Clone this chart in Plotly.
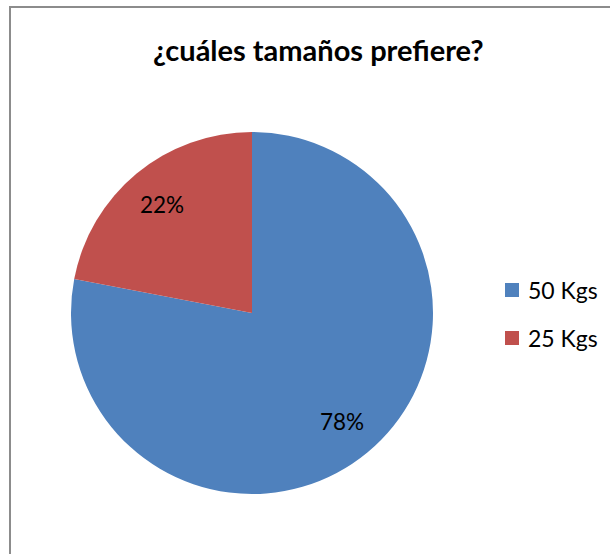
import math
import plotly.graph_objects as go

title_text = "¿cuáles tamaños prefiere?"
labels = ["50 Kgs", "25 Kgs"]
values = [78, 22]
colors = ["#4F81BD", "#C0504D"]

W, H = 610, 554
font_family = "Lato, 'Open Sans', sans-serif"

# pie placement in pixels (center and radius)
cx, cy, r = 252, 313, 181

fig = go.Figure()
fig.add_trace(go.Pie(
    labels=labels,
    values=values,
    marker=dict(colors=colors, line=dict(width=0)),
    sort=False,
    direction="clockwise",
    rotation=0,
    textinfo="none",
    hoverinfo="label+percent",
    showlegend=False,
    domain=dict(x=[(cx - r) / W, (cx + r) / W],
                y=[(H - cy - r) / H, (H - cy + r) / H]),
))

annotations = []
# percentage labels placed along each slice's mid-angle
total = sum(values)
start = 0.0
for v in values:
    frac = v / total
    mid = (start + frac / 2) * 2 * math.pi
    start += frac
    px = cx + 0.78 * r * math.sin(mid)
    py = cy - 0.78 * r * math.cos(mid)
    annotations.append(dict(
        x=px / W, y=1 - py / H, xref="paper", yref="paper",
        text=f"{round(frac * 100)}%", showarrow=False,
        font=dict(size=22.5, color="#000000", family=font_family),
        xanchor="center", yanchor="middle",
    ))

# legend: colored squares with labels
leg_x, leg_y0, leg_step, sq = 505, 290, 48, 14
shapes = []
for i, (lab, col) in enumerate(zip(labels, colors)):
    yc = leg_y0 + i * leg_step
    shapes.append(dict(
        type="rect", xref="paper", yref="paper",
        x0=leg_x / W, x1=(leg_x + sq) / W,
        y0=1 - (yc + sq / 2) / H, y1=1 - (yc - sq / 2) / H,
        fillcolor=col, line=dict(width=0),
    ))
    annotations.append(dict(
        x=(leg_x + sq + 7) / W, y=1 - yc / H, xref="paper", yref="paper",
        text=lab, showarrow=False, xanchor="left", yanchor="middle",
        font=dict(size=23, color="#000000", family=font_family),
    ))

# title
annotations.append(dict(
    x=318 / W, y=1 - 50 / H, xref="paper", yref="paper",
    text=f"<b>{title_text}</b>", showarrow=False,
    xanchor="center", yanchor="middle",
    font=dict(size=29, color="#000000", family=font_family),
))

# chart frame (runs off the right and bottom edges)
shapes.append(dict(
    type="rect", xref="paper", yref="paper",
    x0=10 / W, x1=1.05, y0=-0.05, y1=1 - 7 / H,
    line=dict(color="#8C8C8C", width=2), fillcolor="rgba(0,0,0,0)",
    layer="above",
))

fig.update_layout(
    width=W, height=H,
    margin=dict(l=0, r=0, t=0, b=0),
    paper_bgcolor="#FFFFFF",
    plot_bgcolor="#FFFFFF",
    annotations=annotations,
    shapes=shapes,
    font=dict(family=font_family),
)

fig.write_html("out.html")
